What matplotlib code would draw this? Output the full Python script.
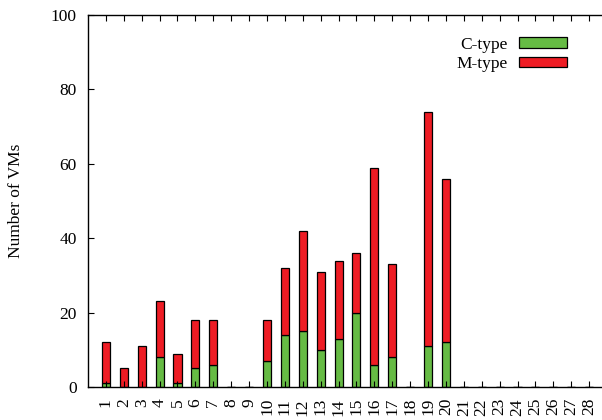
import matplotlib
matplotlib.use("Agg")
import matplotlib.pyplot as plt
import numpy as np

plt.rcParams['font.family'] = ['Liberation Serif', 'DejaVu Serif']

slots = list(range(1, 29))
tick_labels = [str(s) for s in slots]
c_type = [1, 0, 0, 8, 1, 5, 6, 0, 0, 7, 14, 15, 10, 13, 20, 6, 8, 0, 11, 12,
          0, 0, 0, 0, 0, 0, 0, 0]
total = [12, 5, 11, 23, 9, 18, 18, 0, 0, 18, 32, 42, 31, 34, 36, 59, 33, 0, 74, 56,
         0, 0, 0, 0, 0, 0, 0, 0]
m_type = [t - c for t, c in zip(total, c_type)]

green = '#66bb44'
red = '#ee1c24'
fs = 12.5

fig = plt.figure(figsize=(6.02, 4.2), dpi=100)
ax = fig.add_axes([88/602, 1 - 387/420, (607-88)/602, (387-15)/420])

x = np.array(slots)
w = 0.45
ax.bar(x, c_type, width=w, color=green, edgecolor='black', linewidth=0.9, label='C-type')
ax.bar(x, m_type, width=w, bottom=c_type, color=red, edgecolor='black', linewidth=0.9, label='M-type')

ax.set_xlim(0, 29)
ax.set_ylim(0, 100)
ax.set_xticks(x)
ax.set_xticklabels(tick_labels, rotation=90, fontsize=fs)
ax.set_yticks(range(0, 101, 20))
ax.tick_params(axis='y', labelsize=fs, pad=8)
ax.tick_params(axis='x', pad=8)
ax.tick_params(direction='in', length=4.5, width=0.8, top=True, right=False)
ax.set_ylabel('Number of VMs', fontsize=fs)
ax.yaxis.set_label_coords(-(88-24)/519, 0.5)
for s in ax.spines.values():
    s.set_linewidth(1.0)

leg = ax.legend(loc='upper right', bbox_to_anchor=(0.94, 0.965), markerfirst=False,
                frameon=False, fontsize=fs, handlelength=2.8, handleheight=0.52,
                labelspacing=0.2, handletextpad=0.63, borderpad=0)
for t in leg.get_texts():
    t.set_ha('right')

fig.savefig('out.png', dpi=100)
